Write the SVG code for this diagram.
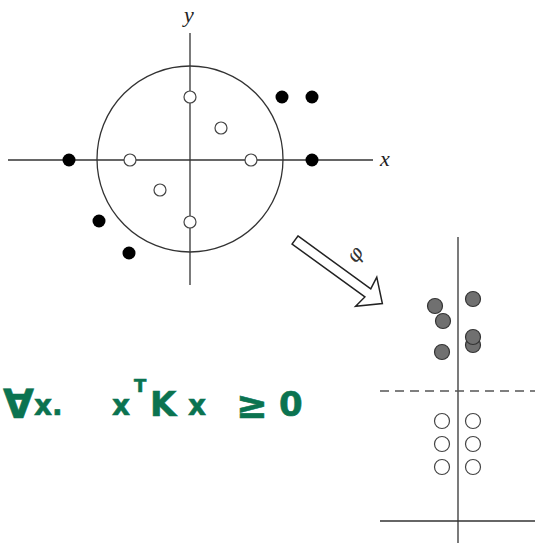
<svg xmlns="http://www.w3.org/2000/svg" width="535" height="545" viewBox="0 0 535 545">
<style>
.ax{stroke:#333;stroke-width:1.3;fill:none}
.open{fill:#fff;stroke:#444;stroke-width:1.2}
.blk{fill:#000}
.gray{fill:#707070;stroke:#333;stroke-width:1.2}
.lbl{font-family:"Liberation Serif",serif;font-style:italic;font-size:22px;fill:#222}
.hw{font-family:"DejaVu Sans",sans-serif;font-weight:bold;fill:#0b7350;stroke:#0b7350;stroke-width:0.6}
</style>
<rect width="535" height="545" fill="#fff"/>
<g id="left-plot">
  <line class="ax" x1="8" y1="160" x2="373" y2="160"/>
  <line class="ax" x1="190" y1="33" x2="190" y2="285"/>
  <circle class="ax" cx="190" cy="159" r="93"/>
  <text class="lbl" x="380" y="166">x</text>
  <text class="lbl" x="184" y="22">y</text>
</g>
<g id="left-open">
  <circle class="open" cx="190" cy="97" r="6"/>
  <circle class="open" cx="221" cy="128" r="6"/>
  <circle class="open" cx="130" cy="160" r="6"/>
  <circle class="open" cx="251" cy="160" r="6"/>
  <circle class="open" cx="160" cy="190" r="6"/>
  <circle class="open" cx="190" cy="222" r="6"/>
</g>
<g id="left-filled">
  <circle class="blk" cx="282" cy="97" r="6.5"/>
  <circle class="blk" cx="312" cy="97" r="6.5"/>
  <circle class="blk" cx="69" cy="160" r="6.5"/>
  <circle class="blk" cx="312" cy="160" r="6.5"/>
  <circle class="blk" cx="99" cy="221" r="6.5"/>
  <circle class="blk" cx="129" cy="253" r="6.5"/>
</g>
<g id="connectors">
  <g id="phi-arrow" transform="translate(295,240) rotate(36)">
    <polygon points="0,-5 90,-5 88,-18 108,0 88,18 90,5 0,5" fill="#fff" stroke="#222" stroke-width="1.5" stroke-linejoin="miter"/>
  </g>
  <text x="0" y="0" transform="translate(356,264) rotate(-54)" font-family="DejaVu Serif,serif" font-style="italic" font-size="20" fill="#333">φ</text>
</g>
<g id="right-plot">
  <line class="ax" x1="458" y1="237" x2="458" y2="543"/>
  <line class="ax" x1="380" y1="521" x2="535" y2="521"/>
  <line x1="380" y1="391" x2="535" y2="391" stroke="#555" stroke-width="1.3" stroke-dasharray="9,6"/>
</g>
<g id="right-gray">
  <circle class="gray" cx="435" cy="306" r="7.5"/>
  <circle class="gray" cx="443" cy="321" r="7.5"/>
  <circle class="gray" cx="442" cy="352" r="7.5"/>
  <circle class="gray" cx="473" cy="299" r="7.5"/>
  <circle class="gray" cx="473" cy="345" r="7.5"/>
  <circle class="gray" cx="473" cy="337" r="7.5"/>
</g>
<g id="right-open">
  <circle class="open" cx="442" cy="421" r="7.5"/>
  <circle class="open" cx="473" cy="421" r="7.5"/>
  <circle class="open" cx="442" cy="444" r="7.5"/>
  <circle class="open" cx="473" cy="444" r="7.5"/>
  <circle class="open" cx="442" cy="467" r="7.5"/>
  <circle class="open" cx="473" cy="467" r="7.5"/>
</g>
<g id="formula">
  <text class="hw" x="3" y="418" font-size="40">∀</text>
  <text class="hw" x="34" y="415" font-size="28">x.</text>
  <text class="hw" x="112" y="415" font-size="28">x</text>
  <text class="hw" x="134" y="392" font-size="18">T</text>
  <text class="hw" x="150" y="416" font-size="34">K</text>
  <text class="hw" x="188" y="415" font-size="28">x</text>
  <text class="hw" x="236" y="418" font-size="38">≥</text>
  <text class="hw" x="279" y="416" font-size="34">0</text>
</g>
</svg>
